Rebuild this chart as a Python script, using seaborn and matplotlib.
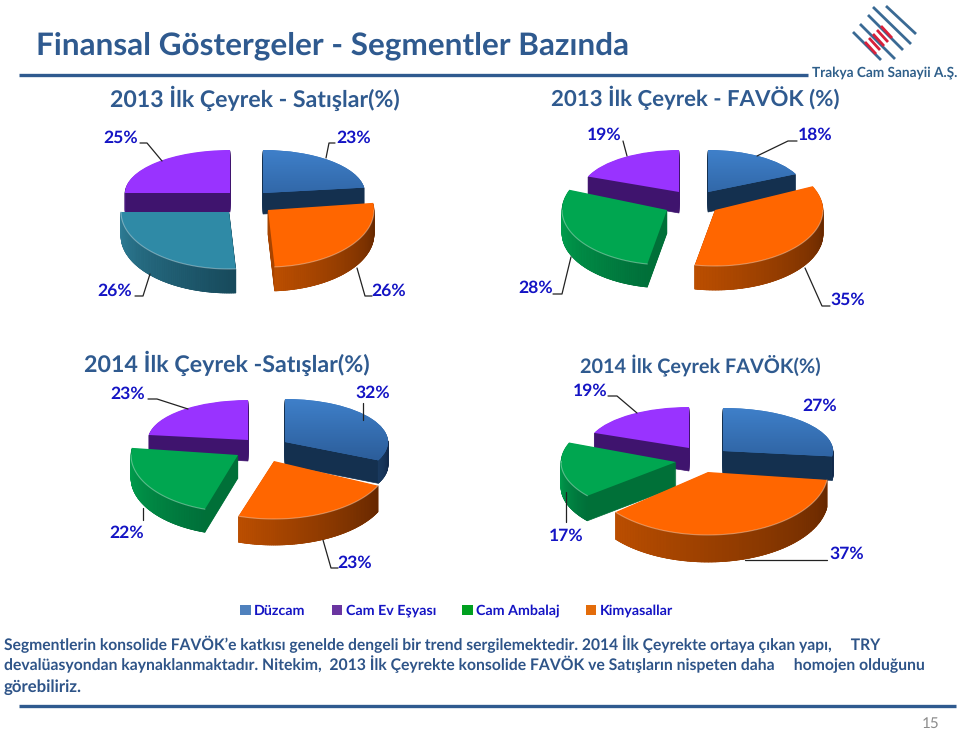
import numpy as np
import matplotlib
matplotlib.use("Agg")
import matplotlib.pyplot as plt
import seaborn as sns
from matplotlib.patches import Polygon, Patch
from matplotlib.collections import PolyCollection
from matplotlib.colors import LinearSegmentedColormap
from matplotlib.transforms import Affine2D

# ---- data ----
segments = ["Düzcam", "Cam Ev Eşyası", "Cam Ambalaj", "Kimyasallar"]
sales_2013 = [23, 26, 26, 25]
ebitda_2013 = [18, 35, 28, 19]
sales_2014 = [32, 23, 22, 23]
ebitda_2014 = [27, 37, 17, 19]
title_main = "Finansal Göstergeler - Segmentler Bazında"
titles = ["2013 İlk Çeyrek - Satışlar(%)", "2013 İlk Çeyrek - FAVÖK (%)",
          "2014 İlk Çeyrek -Satışlar(%)", "2014 İlk Çeyrek FAVÖK(%)"]
body = ["Segmentlerin konsolide FAVÖK’e katkısı genelde dengeli bir trend sergilemektedir. 2014 İlk Çeyrekte ortaya çıkan yapı,     TRY",
        "devalüasyondan kaynaklanmaktadır. Nitekim,  2013 İlk Çeyrekte konsolide FAVÖK ve Satışların nispeten daha     homojen olduğunu",
        "görebiliriz."]

# ---- styling ----
sns.set_theme(style="white")
plt.rcParams["font.family"] = ["Lato", "DejaVu Sans"]
plt.rcParams["text.hinting"] = "no_hinting"
NAVY = "#2f5a8f"
LBL = "#1414c4"
TOP = {"blue": "#3a78c0", "orange": "#ff6600", "green": "#00a650",
       "teal": "#2f8aa6", "purple": "#9933ff"}
WALL = {"blue": "#14304f", "orange": "#a84400", "green": "#007038",
        "teal": "#1c5062", "purple": "#3f146e"}
RIM = {"blue": ("#1a3a60", "#12294a"), "orange": ("#bb4e00", "#662800"),
       "green": ("#00a04e", "#00703a"), "teal": ("#2f7f98", "#174a5c"),
       "purple": ("#4a1880", "#3f146e")}

# slice geometry per panel: apex x, apex y, rx, ry, depth (pixels)
panels = [
    dict(values=sales_2013, names=["blue", "orange", "teal", "purple"], title=(255, 98, 291),
         geo=[(263, 193, 102, 43, 21), (268, 210, 106, 57, 24), (229, 212, 108, 57, 24), (230, 193, 105, 43, 19)],
         text=[(354, 138), (389, 291), (115, 291), (121, 138)],
         lead=[[(335, 143), (329, 143), (326, 158)], [(357, 268), (365, 296), (372, 296)],
               [(135, 296), (143, 296), (150, 274)], [(140, 143), (147, 143), (162, 161)]]),
    dict(values=ebitda_2013, names=["blue", "orange", "green", "purple"], title=(695, 98, 290),
         geo=[(708, 192, 97, 42, 20), (715, 210, 108, 56, 24), (667, 210, 105, 55, 23), (679, 192, 98, 42, 21)],
         text=[(815, 135), (848, 300), (536, 288), (604, 135)],
         lead=[[(797, 141), (788, 141), (757, 156)], [(805, 268), (822, 306), (830, 306)],
               [(553, 294), (562, 294), (571, 257)], [(623, 141), (627, 156)]]),
    dict(values=sales_2014, names=["blue", "orange", "green", "purple"], title=(227, 363, 286),
         geo=[(285, 442, 103, 43, 23), (274, 461, 115, 58, 26), (238, 455, 107, 57, 23), (248, 440, 100, 40, 21)],
         text=[(373, 393), (355, 563), (127, 533), (128, 394)],
         lead=[[(363, 403), (363, 420)], [(323, 540), (331, 568), (338, 568)],
               [(143, 508), (143, 520)], [(148, 399), (157, 399), (188, 409)]]),
    dict(values=ebitda_2014, names=["blue", "orange", "green", "purple"], title=(700, 366, 242),
         geo=[(723, 451, 110, 43, 24), (708, 472, 120, 63, 27), (676, 462, 115, 53, 25), (689, 448, 102, 41, 23)],
         text=[(820, 406), (847, 554), (566, 536), (590, 391)],
         lead=[[], [(745, 560), (827, 560)], [(566, 492), (566, 522)], [(608, 396), (617, 396), (637, 413)]]),
]
DRAW_ORDER = [3, 0, 2, 1]

fig = plt.figure(figsize=(9.6, 7.32), dpi=100)
ax = fig.add_axes([0, 0, 1, 1])


def fit(t, width):
    fig.canvas.draw()
    w = t.get_window_extent().width
    t.set_fontsize(t.get_fontsize() * width / w)
    return t


def arc(a, t1, t2, n=80):
    th = np.radians(np.linspace(t1, t2, n))
    return a[0] + a[2] * np.cos(th), a[1] - a[3] * np.sin(th)


z = 10
for p in panels:
    colors = sns.color_palette([TOP[n] for n in p["names"]])
    wedges, _ = ax.pie(p["values"], colors=colors, startangle=90, counterclock=False,
                       wedgeprops=dict(linewidth=0))
    for i in DRAW_ORDER:
        w, a, name = wedges[i], p["geo"][i], p["names"][i]
        w.set_transform(Affine2D().scale(a[2], -a[3]).translate(a[0], a[1]) + ax.transData)
        w.set_zorder(z + 5)
        x, y = arc(a, w.theta1, w.theta2)
        top = np.column_stack([np.r_[a[0], x], np.r_[a[1], y]])
        # extruded body
        for d in np.arange(a[4], 0, -1.0):
            ax.add_patch(Polygon(top + [0, d], closed=True, fc=WALL[name], ec=WALL[name], lw=0.5, zorder=z))
        # shaded outer rim (only the part facing the viewer)
        lower = np.sin(np.radians(np.linspace(w.theta1, w.theta2, 80))) < 0.02
        cm = LinearSegmentedColormap.from_list("r", RIM[name])
        xs, ys = x[lower], y[lower]
        if len(xs) > 1:
            order = np.argsort(xs)
            xs, ys = xs[order], ys[order]
            quads = [[(xs[k], ys[k]), (xs[k + 1], ys[k + 1]), (xs[k + 1], ys[k + 1] + a[4]), (xs[k], ys[k] + a[4])]
                     for k in range(len(xs) - 1)]
            f = np.linspace(0, 1, len(quads))
            ax.add_collection(PolyCollection(quads, facecolors=cm(f), edgecolors=cm(f), linewidths=0.5, zorder=z + 1))
            if name in ("orange", "green", "teal"):
                ax.plot(xs, ys, color="white", alpha=0.35, lw=0.8, zorder=z + 6)
        # vertical gradient on the blue top faces
        if name == "blue":
            cmg = LinearSegmentedColormap.from_list("g", ["#3f80ca", "#2b5c98"])
            im = ax.imshow(np.linspace(0, 1, 64)[:, None], cmap=cmg, aspect="auto", zorder=z + 5.5,
                           extent=(a[0] - a[2], a[0] + a[2], a[1] + a[3] * 0.5, a[1] - a[3]))
            im.set_clip_path(w)
        z += 10
    # labels and leader lines
    for v, (tx, ty), lead in zip(p["values"], p["text"], p["lead"]):
        ax.text(tx, ty, f"{v}%", color=LBL, fontsize=12.6, fontweight="bold", ha="center", va="center", zorder=900)
        if lead:
            ax.plot(*zip(*lead), color="#222222", lw=0.9, zorder=800)

ax.set_aspect("auto")
ax.set_xlim(0, 960)
ax.set_ylim(732, 0)
ax.axis("off")

# titles
fit(ax.text(36, 46, title_main, color=NAVY, fontsize=22, fontweight="bold", ha="left", va="center"), 592)
for p, ttl in zip(panels, titles):
    fit(ax.text(p["title"][0], p["title"][1], ttl, color=NAVY, fontsize=15, fontweight="bold",
                ha="center", va="center"), p["title"][2])

# rules
ax.plot([19, 808], [75, 75], color=NAVY, lw=2.4, solid_capstyle="butt")
ax.plot([19, 956], [706, 706], color=NAVY, lw=2.4, solid_capstyle="butt")

# body text
for line, y, wd in zip(body, [644, 664, 687], [880, 921, 78]):
    fit(ax.text(4, y, line, color="#2e5488", fontsize=11.5, fontweight="bold", ha="left", va="center"), wd)
ax.text(931, 724, "15", color="#8c8c8c", fontsize=11, ha="center", va="center")

# legend
leg_colors = sns.color_palette(["#4f81bd", "#6a35a0", "#00a020", "#e36c0a"])
handles = [Patch(fc=c, ec="none") for c in leg_colors]
leg = ax.legend(handles, segments, ncol=4, frameon=False, loc="center left",
                bbox_to_anchor=(240, 611), bbox_transform=ax.transData,
                handlelength=0.75, handleheight=0.75, handletextpad=0.25, columnspacing=1.8,
                borderpad=0, borderaxespad=0, prop=dict(family=["Lato", "DejaVu Sans"], size=10.3, weight="bold"))
for t in leg.get_texts():
    t.set_color(LBL)

# company logo
for (x0, y0, x1, y1) in [(853, 32, 881, 60), (860, 24, 895, 59), (868, 15, 903, 50), (873, 7, 911, 44), (886, 6, 916, 34)]:
    ax.plot([x0, x1], [y0, y1], color="#3a6a94", lw=2.0, solid_capstyle="butt")
for s in np.linspace(-8, 8, 5):
    ax.plot([873 + s, 884 + s], [34 - s, 46 - s], color="#d8203a", lw=2.0, solid_capstyle="butt")
fit(ax.text(812, 73, "Trakya Cam Sanayii A.Ş.", color="#2f5f8a", fontsize=13, fontweight="bold",
            ha="left", va="center"), 145)

fig.savefig("out.png", dpi=100, facecolor="white")
